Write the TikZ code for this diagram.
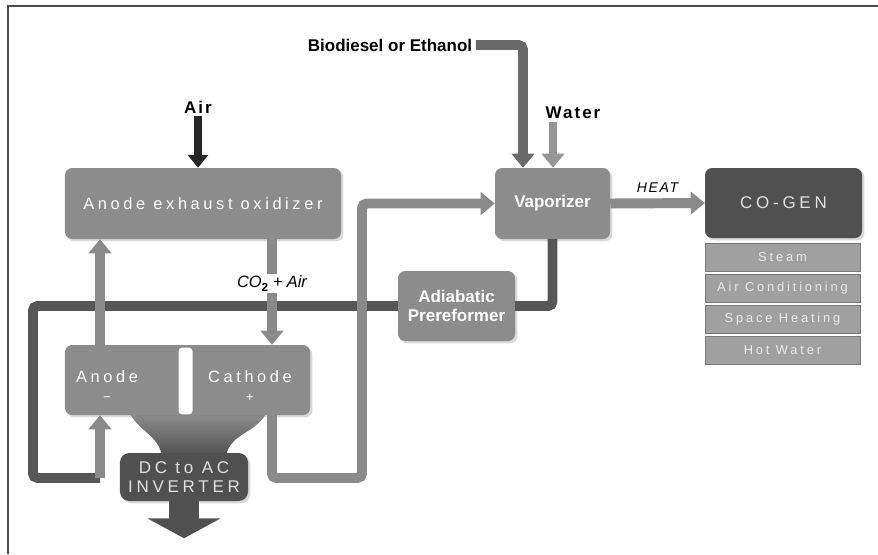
\documentclass[tikz,border=0pt]{standalone}
\usepackage{fontspec}
\setmainfont{Liberation Sans}
\newfontfamily\wideface[LetterSpace=22]{Liberation Sans}
\newfontfamily\tagface[LetterSpace=12]{Liberation Sans}
\usetikzlibrary{
  arrows.meta,
  shadows,
  calc
}
\definecolor{fcBox}{HTML}{8C8C8C}
\definecolor{fcDark}{HTML}{505050}
\definecolor{fcSub}{HTML}{A0A0A0}
\definecolor{fcPipe}{HTML}{8A8A8A}
\definecolor{fcLoop}{HTML}{575757}
\definecolor{fcFeed}{HTML}{6A6A6A}
\definecolor{fcAir}{HTML}{262626}
\definecolor{fcFrame}{HTML}{4A4A4A}
\tikzset{
  fcnode/.style={
    rounded corners=6pt, inner sep=1pt, align=center, text=white,
    drop shadow={opacity=0.3, shadow xshift=2pt, shadow yshift=-2pt}
  },
  unit/.style={fcnode, fill=fcBox, font=\fontsize{14}{16}\wideface},
  boldunit/.style={fcnode, fill=fcBox, font=\fontsize{14.5}{16}\selectfont\bfseries},
  darkunit/.style={fcnode, fill=fcDark, text=white!88!black, font=\fontsize{14.5}{16}\wideface},
  useitem/.style={
    fill=fcSub, draw=fcSub!75!black, line width=0.6pt, inner sep=1pt,
    minimum width=4.65cm, minimum height=0.84cm, text=white!92!black,
    font=\fontsize{11}{12}\wideface
  },
  celltext/.style={text=white, align=center, font=\fontsize{14}{15}\wideface},
  feedtag/.style={font=\fontsize{14.5}{17}\selectfont\bfseries, inner sep=3pt},
  intag/.style={font=\fontsize{14.5}{16}\tagface\bfseries, inner sep=2pt},
  pipetag/.style={text=black, inner sep=1pt, font=\fontsize{13}{15}\tagface\itshape},
  pipe/.style={line width=8.5pt, fcPipe, rounded corners=4pt, -{Triangle[length=12pt,width=19pt]}},
  feedpipe/.style={pipe, fcFeed},
  looppipe/.style={line width=8.5pt, fcLoop, rounded corners=4pt},
  airpipe/.style={line width=7pt, fcAir, -{Triangle[length=11pt,width=17pt]}},
  waterpipe/.style={pipe, line width=7pt, fcPipe!90!white},
  outarrow/.style={line width=25pt, fcDark, -{Triangle[length=17pt,width=62pt]}}
}
\begin{document}
\begin{tikzpicture}[x=0.03cm, y=-0.03cm]
  \useasboundingbox (0,0) rectangle (878,554);
  \draw[fcFrame, line width=1.6pt] (8,554) -- (8,6) -- (878,6);

  % funnel between the cell and the inverter
  \shade[top color=fcBox, bottom color=fcDark]
    (130,414) to[out=-60, in=100] (162,456) -- (226,456) to[out=80, in=-120] (266,414) -- cycle;

  \node[unit, minimum width=8.28cm, minimum height=2.13cm] (oxid) at (203,203.5) {Anode exhaust oxidizer};
  \node[boldunit, minimum width=3.45cm, minimum height=2.13cm] (vap) at (552.5,203.5) {Vaporizer};
  \node[darkunit, minimum width=4.71cm, minimum height=2.1cm] (cogen) at (783.5,203) {CO-GEN};
  \node[useitem] (steam) at (782.5,257) {Steam};
  \node[useitem] (aircon) at (782.5,288) {Air Conditioning};
  \node[useitem] (spaceheat) at (782.5,319) {Space Heating};
  \node[useitem] (hotwater) at (782.5,350) {Hot Water};
  \node[boldunit, minimum width=3.51cm, minimum height=2.1cm] (prer) at (456.5,306) {Adiabatic\\Prereformer};
  \node[unit, minimum width=7.35cm, minimum height=2.1cm] (cell) at (187.5,380) {};
  \node[fill=white, rounded corners=3pt, minimum width=0.42cm, minimum height=2.0cm, inner sep=0pt] (slot) at (185.5,381) {};
  \node[celltext] (anodelbl) at (107,386) {Anode\\[1pt]{\fontsize{11}{12}\selectfont −}};
  \node[celltext] (cathodelbl) at (250,386) {Cathode\\[1pt]{\fontsize{11}{12}\selectfont +}};
  \node[darkunit, minimum width=3.84cm, minimum height=1.44cm, rounded corners=8pt] (inv) at (184,477) {DC to AC\\INVERTER};

  \node[feedtag] (feedlbl) at (390,45) {Biodiesel or Ethanol};
  \node[intag] (airlbl) at (198,107) {Air};
  \node[intag] (waterlbl) at (573,113) {Water};

  \coordinate (feedx) at (523,0);
  \coordinate (waterx) at (553,0);
  \coordinate (anodex) at (100,0);
  \coordinate (cathx) at (272,0);
  \coordinate (loopw) at (33,478);
  \coordinate (loope) at (362,478);

  \draw[feedpipe] (feedlbl.east) -- (feedlbl.east -| feedx) -- (feedx |- vap.north);
  \draw[waterpipe, rounded corners=0pt] (waterx |- waterlbl.south) -- (waterx |- vap.north);
  \draw[airpipe] (airlbl.south) -- (airlbl.south |- oxid.north);
  \draw[pipe, rounded corners=0pt] (vap.east) -- node[above=4pt, pipetag, font=\fontsize{12}{14}\tagface\itshape] (heatlbl) {HEAT} (cogen.west);

  \draw[looppipe] (vap.south) |- (prer.east);
  \draw[looppipe] (prer.west) -- (prer.west -| loopw) |- (loopw -| anodex);
  \draw[pipe] (loopw -| anodex) -- (anodex |- cell.south);

  \draw[pipe] (anodex |- cell.north) -- (anodex |- oxid.south);
  \draw[pipe, rounded corners=0pt] (cathx |- oxid.south) -- node[pos=0.42, pipetag, fill=white, font=\fontsize{14}{16}\selectfont\itshape] (co2lbl) {CO\raisebox{-4pt}{\upshape\bfseries\fontsize{10}{10}\selectfont 2} + Air} (cathx |- cell.north);
  \draw[pipe] (cathx |- cell.south) |- (loope) -- (loope |- vap.west) -- (vap.west);

  \draw[outarrow] (inv.south) -- ++(0,37);
\end{tikzpicture}
\end{document}
